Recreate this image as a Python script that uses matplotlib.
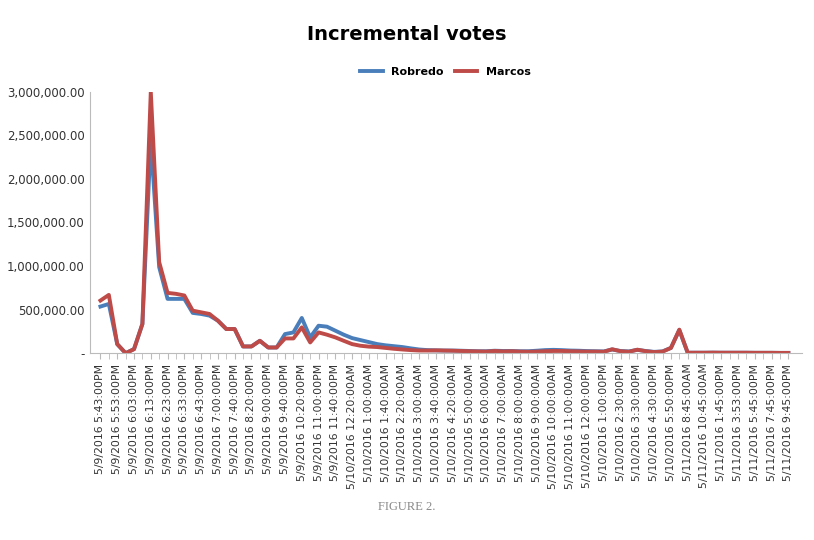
import matplotlib
matplotlib.use("Agg")
import matplotlib.pyplot as plt
from matplotlib.ticker import FuncFormatter

tick_labels = ["5/9/2016 5:43:00PM","5/9/2016 5:53:00PM","5/9/2016 6:03:00PM","5/9/2016 6:13:00PM",
"5/9/2016 6:23:00PM","5/9/2016 6:33:00PM","5/9/2016 6:43:00PM","5/9/2016 7:00:00PM","5/9/2016 7:40:00PM",
"5/9/2016 8:20:00PM","5/9/2016 9:00:00PM","5/9/2016 9:40:00PM","5/9/2016 10:20:00PM","5/9/2016 11:00:00PM",
"5/9/2016 11:40:00PM","5/10/2016 12:20:00AM","5/10/2016 1:00:00AM","5/10/2016 1:40:00AM","5/10/2016 2:20:00AM",
"5/10/2016 3:00:00AM","5/10/2016 3:40:00AM","5/10/2016 4:20:00AM","5/10/2016 5:00:00AM","5/10/2016 6:00:00AM",
"5/10/2016 7:00:00AM","5/10/2016 8:00:00AM","5/10/2016 9:00:00AM","5/10/2016 10:00:00AM","5/10/2016 11:00:00AM",
"5/10/2016 12:00:00PM","5/10/2016 1:00:00PM","5/10/2016 2:30:00PM","5/10/2016 3:30:00PM","5/10/2016 4:30:00PM",
"5/10/2016 5:50:00PM","5/11/2016 8:45:00AM","5/11/2016 10:45:00AM","5/11/2016 1:45:00PM","5/11/2016 3:53:00PM",
"5/11/2016 5:45:00PM","5/11/2016 7:45:00PM","5/11/2016 9:45:00PM"]

robredo = [535e3,565e3,104e3,0,46e3,335e3,2450e3,988e3,623e3,623e3,623e3,462e3,450e3,431e3,373e3,277e3,
277e3,77e3,77e3,142e3,65e3,65e3,219e3,238e3,404e3,181e3,315e3,304e3,258e3,212e3,173e3,150e3,127e3,104e3,
90e3,80e3,70e3,55e3,42e3,35e3,32e3,
30e3,30e3,28e3,25e3,22e3,22e3,28e3,25e3,25e3,22e3,
22e3,28e3,35e3,38e3,35e3,30e3,28e3,24e3,22e3,20e3,
42e3,25e3,20e3,38e3,25e3,15e3,20e3,60e3,
265e3,5e3,5e3,5e3,6e3,5e3,5e3,5e3,5e3,4e3,4e3,4e3,3e3,3e3]
marcos = [604e3,669e3,104e3,0,46e3,335e3,3000e3,1046e3,692e3,681e3,662e3,488e3,469e3,450e3,373e3,277e3,
277e3,77e3,77e3,142e3,65e3,65e3,169e3,169e3,296e3,123e3,238e3,212e3,181e3,142e3,104e3,85e3,75e3,70e3,
60e3,50e3,42e3,35e3,30e3,30e3,32e3,
30e3,28e3,25e3,22e3,20e3,18e3,25e3,20e3,22e3,18e3,
16e3,18e3,22e3,25e3,25e3,22e3,20e3,18e3,18e3,16e3,
45e3,22e3,16e3,40e3,22e3,12e3,18e3,60e3,
270e3,5e3,5e3,5e3,6e3,5e3,5e3,5e3,5e3,4e3,4e3,4e3,3e3,3e3]
n = min(len(robredo), len(marcos))
robredo, marcos = robredo[:n], marcos[:n]

fig = plt.figure(figsize=(8.14,5.4), dpi=100)
ax = fig.add_axes([0.11, 0.346, 0.875, 0.484])
x = list(range(n))
ax.plot(x, robredo, color="#4a7ebb", lw=2.8, label="Robredo")
ax.plot(x, marcos, color="#be4b48", lw=2.8, label="Marcos")
ax.set_xlim(-1.3, n + 0.6)
ax.set_ylim(0, 3e6)
ax.set_yticks([i*5e5 for i in range(7)])
ax.yaxis.set_major_formatter(FuncFormatter(lambda v, p: "-" if v == 0 else f"{v:,.2f}"))
ax.set_xticks(list(range(0, len(tick_labels)*2, 2))[:len(tick_labels)])
ax.set_xticklabels(tick_labels, rotation=90, fontsize=7.8, color="#333333")
ax.set_xticks(x, minor=True)
ax.tick_params(axis="x", which="both", length=4, color="#bbbbbb")
ax.tick_params(axis="y", length=0, labelsize=8.5, labelcolor="#333333")
for s in ["top", "right"]:
    ax.spines[s].set_visible(False)
for s in ["left", "bottom"]:
    ax.spines[s].set_color("#bbbbbb")
fig.text(0.5, 0.925, "Incremental votes", ha="center", fontsize=14, fontweight="bold")
ax.legend(loc="lower center", bbox_to_anchor=(0.5, 1.03), ncol=2, frameon=False,
          prop={"weight": "bold", "size": 8}, handlelength=2, borderaxespad=0.2, columnspacing=1.0)
fig.text(0.5, 0.055, "FIGURE 2.", ha="center", fontsize=9, color="#888888", family="Liberation Serif")
fig.savefig("out.png", dpi=100)
